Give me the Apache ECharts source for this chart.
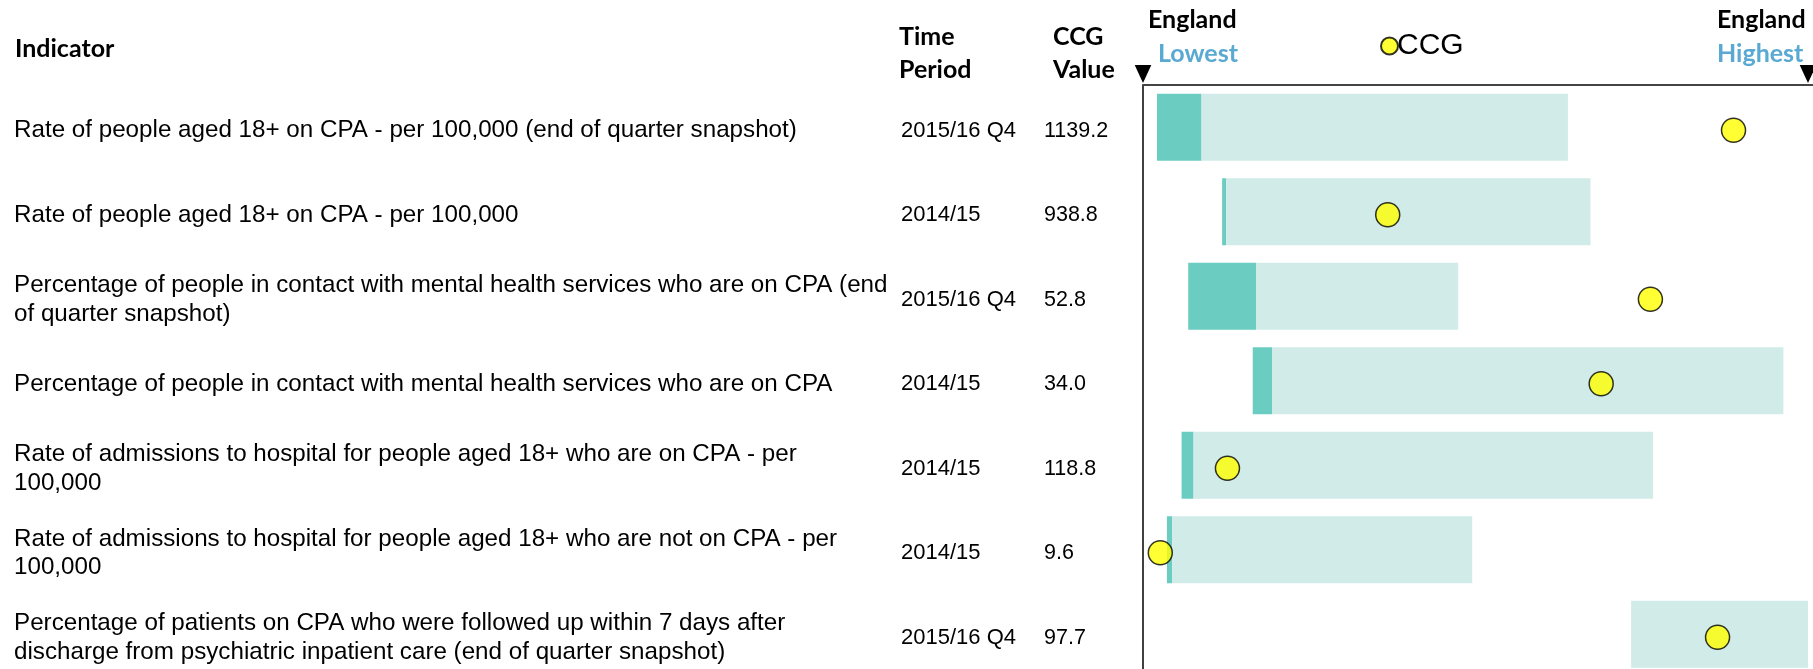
<!DOCTYPE html>
<html>
<head>
<meta charset="utf-8">
<title>CPA indicators – CCG vs England range</title>
<script src="https://cdn.jsdelivr.net/npm/echarts@6/dist/echarts.min.js"></script>
<style>
  html, body { margin: 0; padding: 0; background: #fff; overflow: hidden; }
  /* the last row runs slightly past the visible page, so the canvas is a little taller */
  #chart { width: 1813px; height: 680px; }
</style>
</head>
<body>
<div id="chart"></div>
<script>
// Indicator names (line breaks where the table cell wraps)
const indicators = [
  'Rate of people aged 18+ on CPA - per 100,000 (end of quarter snapshot)',
  'Rate of people aged 18+ on CPA - per 100,000',
  'Percentage of people in contact with mental health services who are on CPA (end\nof quarter snapshot)',
  'Percentage of people in contact with mental health services who are on CPA',
  'Rate of admissions to hospital for people aged 18+ who are on CPA - per\n100,000',
  'Rate of admissions to hospital for people aged 18+ who are not on CPA - per\n100,000',
  'Percentage of patients on CPA who were followed up within 7 days after\ndischarge from psychiatric inpatient care (end of quarter snapshot)'
];
const timePeriods = ['2015/16 Q4', '2014/15', '2015/16 Q4', '2014/15', '2014/15', '2014/15', '2015/16 Q4'];
const ccgValues = ['1139.2', '938.8', '52.8', '34.0', '118.8', '9.6', '97.7'];

// Positions on the England scale: 0 = England lowest, 100 = England highest
const rangeStart  = [2.1, 11.9, 6.8, 16.5, 5.8, 3.6, 73.4];
const bandEnd     = [8.8, 12.5, 17.0, 19.4, 7.6, 4.4, 73.4];
const rangeEnd    = [63.9, 67.3, 47.4, 96.3, 76.7, 49.5, 100];
const ccgPosition = [88.8, 36.8, 76.3, 68.9, 12.7, 2.6, 86.4];

const scaleMin = 0;
const scaleMax = 100;

const DARK = '#6bcdc2';
const LIGHT = '#d1ece8';
const BLUE = '#5aa9d3';
const HEAD_FONT = 'Lato, "Open Sans", sans-serif';
const BODY_FONT = '"Liberation Sans", Arial, sans-serif';

const chart = echarts.init(document.getElementById('chart'), null, { renderer: 'canvas' });

const GRID_LEFT = 1143;
const GRID_TOP = 85;
const ROW = 84.5;
// table text sits a little below the centre of each bar row
const TEXT_DROP = 3.5;

// label-only category axis for one table column (lives on the text grid)
function columnAxis(data, margin, fontSize, lineHeight) {
  return {
    type: 'category',
    gridIndex: 1,
    data: data,
    inverse: true,
    position: 'left',
    offset: 0,
    axisLine: { show: false },
    axisTick: { show: false },
    splitLine: { show: false },
    axisLabel: {
      interval: 0,
      align: 'left',
      margin: margin,
      color: '#000',
      fontFamily: BODY_FONT,
      fontSize: fontSize,
      lineHeight: lineHeight,
      verticalAlign: 'middle'
    }
  };
}

const option = {
  animation: false,
  backgroundColor: '#fff',
  grid: [
    { left: GRID_LEFT, right: 5, top: GRID_TOP, height: ROW * indicators.length, containLabel: false },
    { left: GRID_LEFT, right: 5, top: GRID_TOP + TEXT_DROP, height: ROW * indicators.length, containLabel: false }
  ],
  legend: {
    data: ['CCG'],
    left: 1375,
    top: 26,
    icon: 'circle',
    itemWidth: 17,
    itemHeight: 17,
    selectedMode: false,
    textStyle: { fontFamily: BODY_FONT, fontSize: 30, color: '#000', padding: [0, 0, 0, -6] }
  },
  xAxis: [
    {
      type: 'value',
      gridIndex: 0,
      position: 'top',
      min: scaleMin,
      max: scaleMax,
      axisLine: { show: true, onZero: false, lineStyle: { color: '#444', width: 2 } },
      axisTick: { show: false },
      axisLabel: { show: false },
      splitLine: { show: false }
    },
    {
      type: 'value',
      gridIndex: 1,
      min: scaleMin,
      max: scaleMax,
      show: false
    }
  ],
  yAxis: [
    {
      type: 'category',
      gridIndex: 0,
      data: indicators,
      inverse: true,
      axisLine: { show: true, lineStyle: { color: '#000', width: 1.5 } },
      axisTick: { show: false },
      axisLabel: { show: false },
      splitLine: { show: false }
    },
    columnAxis(indicators, GRID_LEFT - 14, 24.2, 28.3),
    columnAxis(timePeriods, GRID_LEFT - 901, 22, 26),
    columnAxis(ccgValues, GRID_LEFT - 1044, 21.5, 26)
  ],
  series: [
    {
      name: 'offset',
      type: 'bar',
      stack: 'range',
      silent: true,
      barWidth: 67,
      itemStyle: { color: 'transparent' },
      data: rangeStart
    },
    {
      name: 'lower band',
      type: 'bar',
      stack: 'range',
      silent: true,
      barWidth: 67,
      itemStyle: { color: DARK },
      data: bandEnd.map((v, i) => +(v - rangeStart[i]).toFixed(2))
    },
    {
      name: 'range',
      type: 'bar',
      stack: 'range',
      silent: true,
      barWidth: 67,
      itemStyle: { color: LIGHT },
      data: rangeEnd.map((v, i) => +(v - bandEnd[i]).toFixed(2))
    },
    {
      name: 'CCG',
      type: 'scatter',
      symbol: 'circle',
      symbolSize: 24,
      symbolOffset: [0, 3],
      clip: false,
      z: 5,
      itemStyle: { color: '#ffff00', borderColor: '#000', borderWidth: 1.5 },
      data: ccgPosition.map((v, i) => [v, i])
    }
  ]
};

chart.setOption(option);

// Header texts and end-of-scale markers, anchored to the x scale
const x0 = chart.convertToPixel({ xAxisIndex: 0 }, scaleMin);
const x1 = chart.convertToPixel({ xAxisIndex: 0 }, scaleMax);

function headText(text, x, y, color) {
  return {
    type: 'text',
    x: x,
    y: y,
    style: {
      text: text,
      fill: color || '#000',
      font: 'bold 25px ' + HEAD_FONT,
      align: 'left',
      verticalAlign: 'middle'
    }
  };
}

function arrow(x) {
  return {
    type: 'polygon',
    shape: { points: [[x - 8.3, 65], [x + 8.3, 65], [x, 83]] },
    style: { fill: '#000' }
  };
}

chart.setOption({
  graphic: [
    headText('Indicator', 15, 49),
    headText('Time', 899, 37),
    headText('Period', 899, 70),
    headText('CCG', 1053, 37),
    headText('Value', 1053, 70),
    headText('England', x0 + 5, 20),
    headText('Lowest', x0 + 15, 54, BLUE),
    headText('England', 1717, 20),
    headText('Highest', 1717, 54, BLUE),
    arrow(x0),
    arrow(x1),
    {
      type: 'line',
      shape: { x1: x1, y1: GRID_TOP, x2: 1813, y2: GRID_TOP },
      style: { stroke: '#444', lineWidth: 2 }
    }
  ]
});
</script>
</body>
</html>
